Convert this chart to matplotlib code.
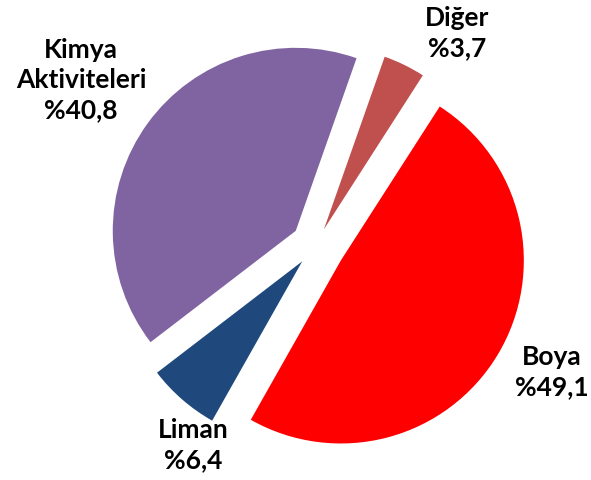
import matplotlib
matplotlib.use("Agg")
import matplotlib.pyplot as plt

# share of each activity, clockwise from the top
names = ["Diğer", "Boya", "Liman", "Kimya\nAktiviteleri"]
shares = [3.7, 49.1, 6.4, 40.8]
colors = ["#C0504D", "#FF0000", "#1F497D", "#8064A2"]

W, H = 591, 481
radius = 183
center = (316, H - 246.5)
explode = [18, 29, 21, 25]          # pixels, pie() uses data units
label_pos = [(457, H - 33), (552, H - 372), (193, H - 445), (81, H - 80)]

fig = plt.figure(figsize=(W / 100, H / 100), dpi=100)
ax = fig.add_axes([0, 0, 1, 1])

ax.pie(shares, colors=colors, explode=explode, radius=radius, center=center,
       startangle=70.6, counterclock=False,
       wedgeprops=dict(linewidth=0))

for name, v, (x, y) in zip(names, shares, label_pos):
    txt = f"{name}\n%{v:.1f}".replace(".", ",")
    ax.text(x, y, txt, ha="center", va="center", fontsize=19,
            fontweight="bold", family=["Lato", "DejaVu Sans"],
            linespacing=1.3, color="black")

ax.set_xlim(0, W)
ax.set_ylim(0, H)
ax.set_aspect("equal")
ax.axis("off")

fig.savefig("out.png", dpi=100)
